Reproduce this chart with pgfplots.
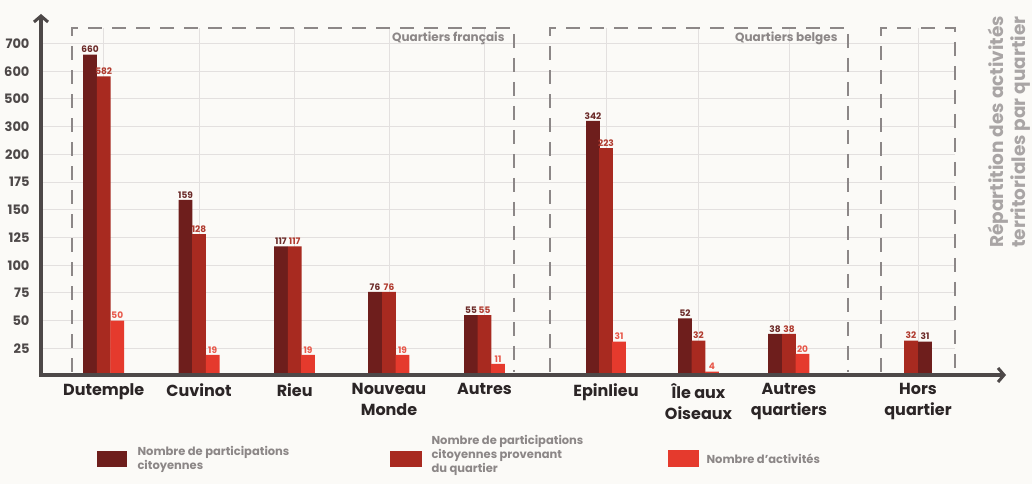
\documentclass[border=0pt]{standalone}
\usepackage{pgfplots}
\pgfplotsset{compat=1.18}
\usepackage{pgfplotstable}
\usepackage{fontspec}
\setmainfont{Poppins}
\usetikzlibrary{arrows.meta}
\definecolor{bg}{HTML}{FBFAF7}
\definecolor{cmaroon}{HTML}{6E1E1C}
\definecolor{cred}{HTML}{A82A20}
\definecolor{cbright}{HTML}{E53A2D}
\definecolor{lmaroon}{HTML}{6B2A28}
\definecolor{lred}{HTML}{B03A2E}
\definecolor{lbright}{HTML}{E8584A}
\definecolor{axisgray}{HTML}{4D4848}
\definecolor{dashgray}{HTML}{8C8787}
\definecolor{gridgray}{HTML}{E3E0DF}
\definecolor{txt}{HTML}{2B2526}
\definecolor{sidegray}{HTML}{A9A5A5}

% Nombre de participations citoyennes
\pgfplotstableread{
x v
90 660
185.5 159
281 117
375 76
471 55
593 342
685 52
775 38
925 31
}\maroondata
% Nombre de participations citoyennes provenant du quartier
\pgfplotstableread{
x v
103.7 582
199 128
294.7 117
389 76
484.5 55
606 223
698.5 32
789 38
911 32
}\reddata
% Nombre d'activites
\pgfplotstableread{
x v
117.3 50
212.7 19
308 19
402.5 19
498 11
619 31
712 4
802.5 20
}\brightdata

\begin{document}
\begin{tikzpicture}[x=1pt,y=1pt]
\useasboundingbox (0,0) rectangle (1032,484);
\fill[bg] (0,0) rectangle (1032,484);
\begin{axis}[
  at={(0,0)}, anchor=south west,
  x=1pt, y=1.108pt,
  xmin=0, xmax=1032, ymin=-97.47, ymax=339.35,
  axis line style={draw=none},
  clip=false,
  major tick length=0pt,
  /pgf/number format/assume math mode=true,
  ytick={25,50,...,300},
  yticklabels={25,50,75,100,125,150,175,200,300,500,600,700},
  yticklabel style={font=\fontsize{13}{13}\selectfont\bfseries, text=axisgray, anchor=east, xshift=33pt},
  xtick={103.7,199,294.7,389,484.5,606,698.5,789,918},
  xticklabels={Dutemple, Cuvinot, Rieu, {Nouveau\\Monde}, Autres, Epinlieu, {Île aux\\Oiseaux}, {Autres\\quartiers}, {Hors\\quartier}},
  xticklabel style={font=\fontsize{16}{21}\selectfont\bfseries, text=txt, align=center, anchor=north, yshift=104pt},
  declare function={sc(\v)=(\v<=200)*\v + and(\v>200,\v<=300)*(200+(\v-200)/4) + and(\v>300,\v<=500)*(225+(\v-300)/8) + (\v>500)*(250+(\v-500)/4);},
  point meta=explicit,
  nodes near coords,
]
% grid
\pgfplotsinvokeforeach{25,50,75,100,125,150,175,200,225,250,275,300}{
  \draw[gridgray, line width=1pt] (axis cs:42,#1) -- (axis cs:955,#1);
}
\pgfplotsinvokeforeach{103.7,199,294.7,389,484.5,606,698.5,789,918}{
  \draw[gridgray, line width=1pt] (axis cs:#1,0) -- (axis cs:#1,314);
}
\addplot[ybar, bar width=13.7pt, bar shift=0pt, fill=cmaroon, draw=none,
  every node near coord/.append style={font=\fontsize{9}{9}\selectfont\bfseries, text=lmaroon, inner sep=1.5pt, anchor=south}]
  table[x=x, y expr={sc(\thisrow{v})}, meta=v] {\maroondata};
\addplot[ybar, bar width=13.7pt, bar shift=0pt, fill=cred, draw=none,
  every node near coord/.append style={font=\fontsize{9}{9}\selectfont\bfseries, text=lred, inner sep=1.5pt, anchor=south}]
  table[x=x, y expr={sc(\thisrow{v})}, meta=v] {\reddata};
\addplot[ybar, bar width=13.7pt, bar shift=0pt, fill=cbright, draw=none,
  every node near coord/.append style={font=\fontsize{9}{9}\selectfont\bfseries, text=lbright, inner sep=1.5pt, anchor=south}]
  table[x=x, y expr={sc(\thisrow{v})}, meta=v] {\brightdata};
\end{axis}
% dashed group boxes
\begin{scope}[dashgray, line width=2.5pt, dash pattern=on 14pt off 10pt]
\draw (72,112) -- (72,456) -- (514,456) -- (514,112);
\draw (550,112) -- (550,456) -- (848,456) -- (848,112);
\draw (881,112) -- (881,456) -- (955,456) -- (955,112);
\end{scope}
\node[anchor=east, font=\fontsize{12}{12}\selectfont\bfseries, text=dashgray] at (508,446) {Quartiers français};
\node[anchor=east, font=\fontsize{12}{12}\selectfont\bfseries, text=dashgray] at (841,446) {Quartiers belges};
% axes
\draw[axisgray, line width=4pt, -{Straight Barb[length=6pt, width=14pt, line width=3pt]}] (41,107) -- (41,470);
\draw[axisgray, line width=4pt, -{Straight Barb[length=6pt, width=14pt, line width=3pt]}] (39,109) -- (1006,109);
% legend
\fill[cmaroon] (97,17) rectangle (127,33);
\node[anchor=west, align=left, font=\fontsize{11.5}{14}\selectfont\bfseries, text=dashgray] at (134,25) {Nombre de participations\\citoyennes};
\fill[cred] (390,17) rectangle (422,33);
\node[anchor=west, align=left, font=\fontsize{11.5}{14}\selectfont\bfseries, text=dashgray] at (428,29) {Nombre de participations\\citoyennes provenant\\du quartier};
\fill[cbright] (668,17) rectangle (699,34);
\node[anchor=west, align=left, font=\fontsize{11.5}{14}\selectfont\bfseries, text=dashgray] at (703,25) {Nombre d'activités};
% side title
\node[rotate=90, anchor=north west, align=left, font=\fontsize{18.5}{21.5}\selectfont\bfseries, text=sidegray, inner sep=0pt] at (988,236) {Répartition des activités\\territoriales par quartier};
\end{tikzpicture}
\end{document}
